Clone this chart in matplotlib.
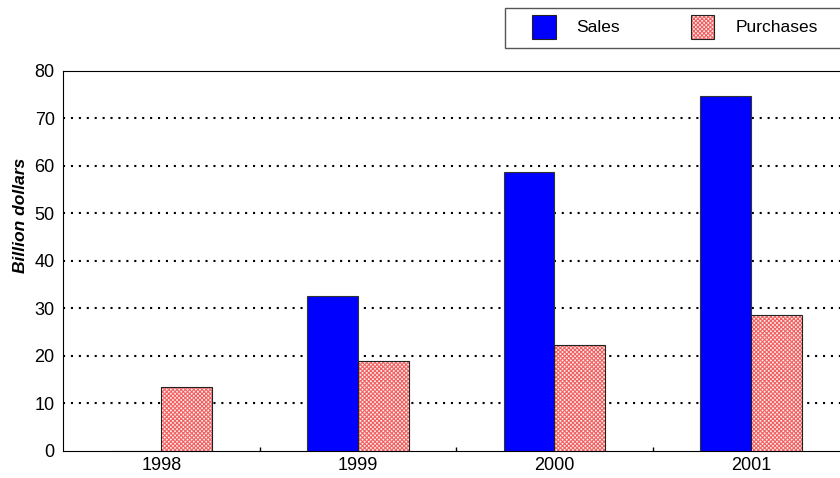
import numpy as np
import matplotlib.pyplot as plt
from matplotlib.patches import Rectangle

plt.rcParams['font.family'] = ['Liberation Sans', 'DejaVu Sans']
plt.rcParams['hatch.linewidth'] = 0.8

years = ['1998', '1999', '2000', '2001']
sales = [0, 32.6, 58.8, 74.7]
purchases = [13.5, 18.9, 22.4, 28.6]

fig = plt.figure(figsize=(8.4, 4.78), dpi=100)
# the axes run a little past the right edge of the figure
ax = fig.add_axes([0.075, 0.0565, 0.936, 0.795])

x = np.arange(len(years))
w = 0.258
pink = '#f06262'

ax.bar(x - w / 2, sales, w, color='#0000ff', edgecolor='#333333', linewidth=0.8, zorder=3)
# hatched fill first, then a plain outline on top
ax.bar(x + w / 2, purchases, w, facecolor='#ffeaea', edgecolor=pink,
       hatch='xxxxxxxx', linewidth=0, zorder=3)
ax.bar(x + w / 2, purchases, w, facecolor='none', edgecolor='#222222', linewidth=0.8, zorder=4)

ax.set_xlim(-0.5, 3.5)
ax.set_ylim(0, 80)
ax.set_yticks(range(0, 81, 10))
ax.set_xticks(x)
ax.set_xticklabels(years)
ax.set_xticks(x[:-1] + 0.5, minor=True)
ax.tick_params(axis='x', which='major', length=0, pad=4, labelsize=13)
ax.tick_params(axis='x', which='minor', direction='in', length=3, width=1)
ax.tick_params(axis='y', length=0, pad=6, labelsize=13)

for v in range(10, 80, 10):
    ax.axhline(v, color='black', linestyle=(0, (1, 2.8)), linewidth=1.5, zorder=1)

for s in ['left', 'top', 'bottom']:
    ax.spines[s].set_color('black')
    ax.spines[s].set_linewidth(0.8)
ax.spines['right'].set_visible(False)

ax.set_ylabel('Billion dollars', fontsize=12.5, fontstyle='italic', fontweight='bold')
ax.yaxis.set_label_coords(-0.045, 0.62)

# legend box at the top
fig.patches.append(Rectangle((505 / 840, 1 - 48 / 478), 340 / 840, 40 / 478,
                             transform=fig.transFigure, facecolor='white',
                             edgecolor='#555555', linewidth=1))
fig.patches.append(Rectangle((532 / 840, 1 - 39 / 478), 24 / 840, 24 / 478,
                             transform=fig.transFigure, facecolor='#0000ff',
                             edgecolor='#222222', linewidth=0.8))
fig.patches.append(Rectangle((691 / 840, 1 - 39 / 478), 23 / 840, 24 / 478,
                             transform=fig.transFigure, facecolor='#ffeaea',
                             edgecolor=pink, hatch='xxxxxxxx', linewidth=0))
fig.patches.append(Rectangle((691 / 840, 1 - 39 / 478), 23 / 840, 24 / 478,
                             transform=fig.transFigure, facecolor='none',
                             edgecolor='#222222', linewidth=0.8))
fig.text(576 / 840, 1 - 27 / 478, 'Sales', fontsize=12.5, va='center')
fig.text(736 / 840, 1 - 27 / 478, 'Purchases', fontsize=12.5, va='center')

fig.savefig('out.png', dpi=100)
